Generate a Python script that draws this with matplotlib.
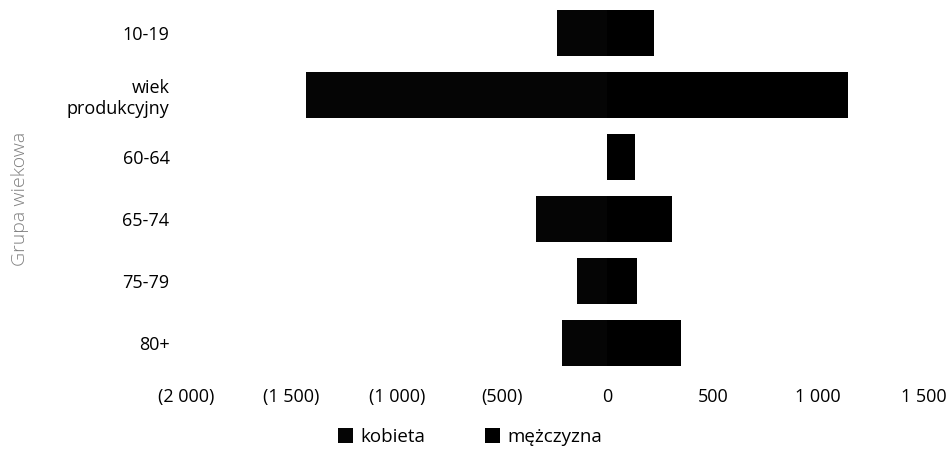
import matplotlib.pyplot as plt
from matplotlib.ticker import FuncFormatter

# -----------------------------
# DATA
# -----------------------------
groups = ["10-19", "wiek\nprodukcyjny", "60-64", "65-74", "75-79", "80+"]
kobieta = [240, 1430, 0, 340, 145, 215]      # drawn to the left
mezczyzna = [220, 1140, 130, 305, 142, 350]  # drawn to the right

plt.rcParams['font.family'] = ['Open Sans', 'DejaVu Sans']

fig = plt.figure(figsize=(9.5, 4.49), dpi=100)
ax = fig.add_axes([0.196, 0.167, 0.776, 0.829])

y = range(len(groups))
ax.barh(y, [-v for v in kobieta], height=0.74, color="#050505", label="kobieta")
ax.barh(y, mezczyzna, height=0.74, color="#000000", label="mężczyzna")

ax.set_yticks(list(y))
ax.set_yticklabels(groups, fontsize=13)
ax.set_ylim(len(groups) - 0.5, -0.5)

ax.set_xlim(-2000, 1500)
ax.set_xticks(range(-2000, 1501, 500))


def fmt(v, pos):
    s = f"{abs(int(v)):,}".replace(",", " ")
    return f"({s})" if v < 0 else s


ax.xaxis.set_major_formatter(FuncFormatter(fmt))
ax.tick_params(axis="x", length=0, pad=10, labelsize=13)
ax.tick_params(axis="y", length=0, pad=12)

for s in ax.spines.values():
    s.set_visible(False)

ax.set_ylabel("Grupa wiekowa", fontsize=14, color="#808080", fontweight="light")
ax.yaxis.set_label_coords(-0.213, 0.47)

fig.legend(loc="center", bbox_to_anchor=(0.495, 0.027), ncol=2, frameon=False,
           fontsize=13.5, handlelength=0.8, handleheight=0.8, handletextpad=0.4,
           columnspacing=3.2)

fig.savefig("out.png", dpi=100)
